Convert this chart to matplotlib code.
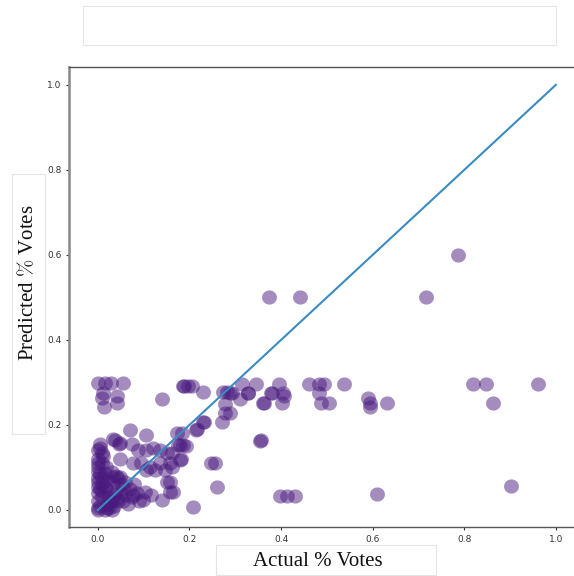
import numpy as np
import matplotlib.pyplot as plt
from matplotlib.path import Path
from matplotlib.patches import Rectangle

# Actual vs predicted vote share
actual = [
    # far from the origin
    0.787, 0.374, 0.441, 0.716,
    0.314, 0.346, 0.396, 0.461, 0.483, 0.493, 0.538, 0.819, 0.848, 0.962,
    0.288, 0.328, 0.380, 0.404, 0.483, 0.406, 0.310,
    0.360, 0.403, 0.488, 0.504, 0.595, 0.632, 0.862, 0.590, 0.595,
    0.356, 0.397, 0.414, 0.431, 0.609, 0.903, 0.288,
    # middle band
    0.188, 0.205, 0.229, 0.274, 0.281, 0.292, 0.328, 0.362, 0.379, 0.277, 0.277,
    0.270, 0.231, 0.217, 0.183, 0.355, 0.179, 0.192, 0.161, 0.181, 0.248, 0.255,
    0.161, 0.157, 0.164, 0.261, 0.208,
    # upper-left group
    0.001, 0.015, 0.028, 0.054, 0.012, 0.008, 0.041, 0.013, 0.041, 0.141, 0.186, 0.197,
    # lower-left group
    0.070, 0.106, 0.004, 0.037, 0.047, 0.074, 0.033, 0.048, 0.175, 0.186,
    0.088, 0.106, 0.121, 0.135, 0.150, 0.008, 0.001, 0.048,
    0.077, 0.095, 0.114, 0.135, 0.157, 0.179, 0.106, 0.124, 0.146,
    0.015, 0.033, 0.048, 0.150, 0.157, 0.103, 0.117, 0.139, 0.099, 0.077, 0.055,
    0.026, 0.041, 0.055, 0.172, 0.215, 0.230,
    # dense corner
    0.000, 0.005, 0.000, 0.010, 0.000, 0.005, 0.000, 0.010, 0.000, 0.015, 0.020,
    0.025, 0.020, 0.030, 0.035, 0.040, 0.045, 0.050, 0.060, 0.065, 0.070, 0.075,
    0.080, 0.085, 0.090, 0.030, 0.045, 0.060, 0.000, 0.000, 0.000, 0.005, 0.012,
    0.020, 0.008, 0.030, 0.018, 0.000, 0.010,
    0.000, 0.010, 0.020, 0.035, 0.040, 0.000, 0.015, 0.050, 0.025, 0.005, 0.030,
]
predicted = [
    0.600, 0.500, 0.500, 0.500,
    0.297, 0.297, 0.297, 0.297, 0.297, 0.297, 0.297, 0.297, 0.297, 0.297,
    0.276, 0.276, 0.276, 0.276, 0.276, 0.269, 0.260,
    0.252, 0.252, 0.252, 0.252, 0.252, 0.252, 0.252, 0.263, 0.242,
    0.164, 0.032, 0.032, 0.032, 0.037, 0.056, 0.228,
    0.292, 0.292, 0.277, 0.278, 0.278, 0.275, 0.276, 0.251, 0.276, 0.249, 0.229,
    0.208, 0.208, 0.190, 0.180, 0.163, 0.153, 0.151, 0.133, 0.119, 0.110, 0.110,
    0.102, 0.067, 0.043, 0.053, 0.008,
    0.298, 0.298, 0.298, 0.298, 0.275, 0.263, 0.267, 0.242, 0.251, 0.261, 0.292, 0.292,
    0.188, 0.176, 0.155, 0.165, 0.155, 0.155, 0.166, 0.157, 0.153, 0.153,
    0.141, 0.141, 0.146, 0.141, 0.134, 0.133, 0.110, 0.119,
    0.110, 0.110, 0.102, 0.110, 0.110, 0.118, 0.094, 0.094, 0.094,
    0.086, 0.078, 0.078, 0.067, 0.043, 0.043, 0.035, 0.024, 0.024, 0.035, 0.051,
    0.020, 0.027, 0.020, 0.180, 0.188, 0.208,
    0.000, 0.010, 0.020, 0.030, 0.040, 0.050, 0.065, 0.075, 0.090, 0.000, 0.015,
    0.030, 0.050, 0.065, 0.010, 0.045, 0.020, 0.060, 0.035, 0.015, 0.050, 0.030,
    0.060, 0.040, 0.020, 0.090, 0.075, 0.065, 0.100, 0.120, 0.140, 0.145, 0.128,
    0.005, 0.110, 0.000, 0.100, 0.055, 0.060,
    0.005, 0.045, 0.070, 0.035, 0.080, 0.075, 0.055, 0.040, 0.005, 0.085, 0.020,
]

point_color = '#4a1a7f'
line_color = '#3b8bc2'

# nearly round dots, just a touch wider than tall like in the reference
t = np.linspace(0, 2 * np.pi, 60)
ellipse = Path(np.column_stack([np.cos(t), 0.95 * np.sin(t)]), closed=True)

fig = plt.figure(figsize=(5.74, 5.76), dpi=100)
ax = fig.add_axes([69 / 574, 49 / 576, 507 / 574, 460 / 576])

ax.scatter(actual, predicted, s=115, marker=ellipse, color=point_color,
           alpha=0.5, linewidths=0)
ax.plot([0, 1], [0, 1], color=line_color, linewidth=1.5)

ax.set_xlim(-0.063, 1.044)
ax.set_ylim(-0.04, 1.042)
ax.set_xticks(np.arange(0, 1.01, 0.2))
ax.set_yticks(np.arange(0, 1.01, 0.2))
ax.tick_params(labelsize=6.5, colors='#333333', length=2.5, width=0.8, pad=3)
for side in ['left', 'right', 'top', 'bottom']:
    ax.spines[side].set_color('#555555')
    ax.spines[side].set_linewidth(1.0)
ax.spines['left'].set_color('#888888')
ax.spines['left'].set_linewidth(1.8)

# label boxes (the reference shows light grey frames around the labels)
box_style = dict(facecolor='none', edgecolor='#e4e4e4', linewidth=0.8,
                 transform=fig.transFigure, zorder=-1)
fig.patches.append(Rectangle((83 / 574, 1 - 45 / 576), 473 / 574, 39 / 576, **box_style))
fig.patches.append(Rectangle((12 / 574, 1 - 434 / 576), 33 / 574, 260 / 576, **box_style))
fig.patches.append(Rectangle((216 / 574, 1 - 575 / 576), 220 / 574, 30 / 576, **box_style))

fig.text(318 / 574, 1 - 561 / 576, 'Actual % Votes', fontsize=15,
         family='Liberation Serif', ha='center', va='center', color='#111111')
fig.text(28 / 574, 1 - 283 / 576, r'Predicted $\%$ Votes', fontsize=15,
         family='Liberation Serif', math_fontfamily='cm', rotation=90,
         ha='center', va='center', color='#111111')

fig.savefig('out.png', dpi=100)
